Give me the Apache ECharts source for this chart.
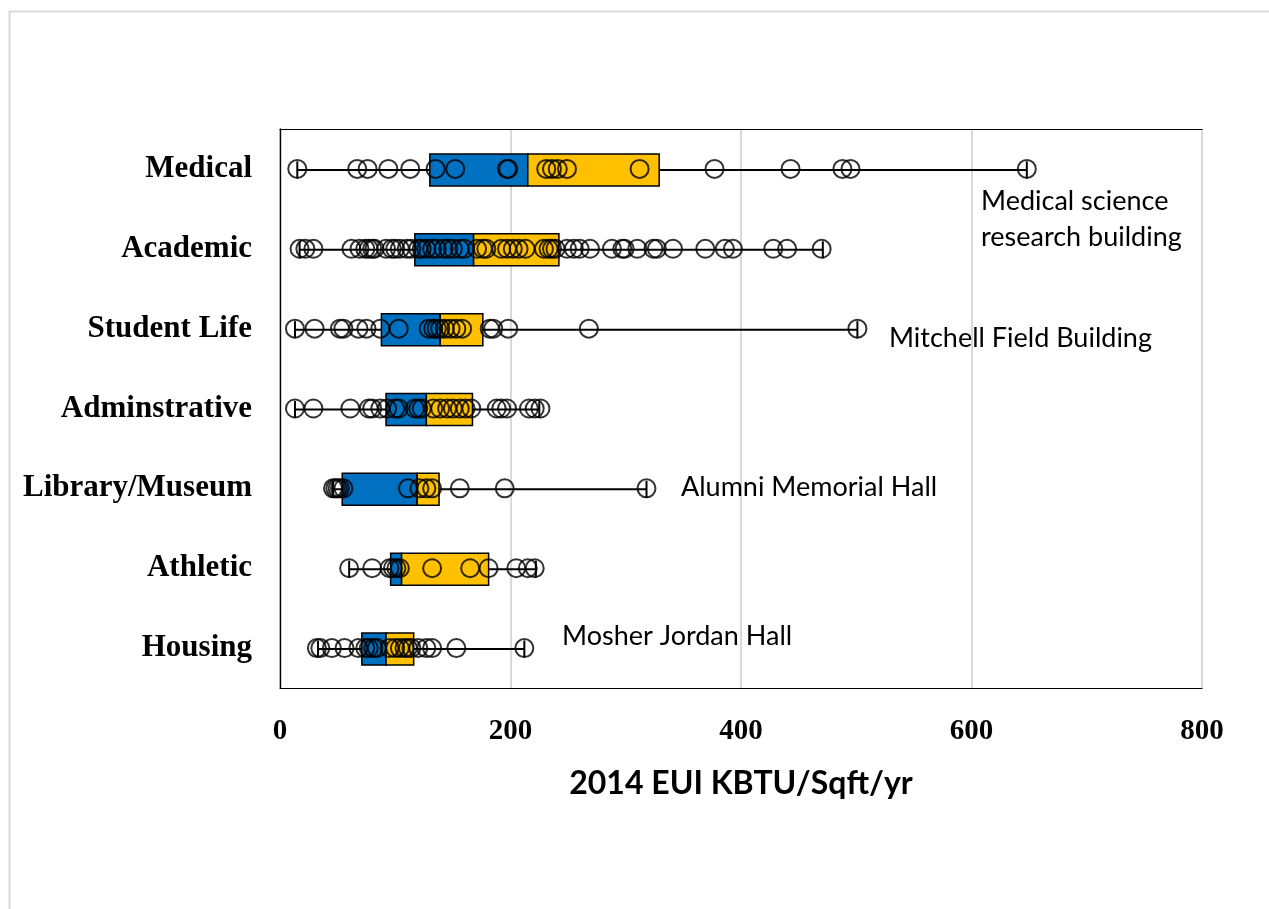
<!DOCTYPE html>
<html><head><meta charset="utf-8">
<script src="https://cdn.jsdelivr.net/npm/echarts@6/dist/echarts.min.js"></script>
<style>html,body{margin:0;padding:0;background:#fff}#c{width:1269px;height:909px}</style>
</head><body><div id="c"></div>
<script>
const categories = ['Medical','Academic','Student Life','Adminstrative','Library/Museum','Athletic','Housing'];
// box stats: [min, Q1, median, Q3, max]
const medicalBox = [15, 130, 215, 329, 648];
const academicBox = [17, 117, 168, 242, 471];
const studentBox = [13, 88, 139, 176, 501];
const adminBox = [13, 92, 127, 167, 225];
const libraryBox = [46, 54, 119, 138, 318];
const athleticBox = [60, 96, 105.5, 181, 222];
const housingBox = [33, 71, 92, 116, 212];

const medicalPts = [15, 67, 76, 94, 113, 135, 152, 197, 198, 231, 236, 241, 249, 312, 377, 443, 488, 495, 648];
const academicPts = [17, 22, 29, 62, 69, 74, 77, 80, 82, 92, 97, 100, 104, 110, 114, 120, 123, 127, 132, 136, 142, 146, 150, 156, 160, 171, 176, 179, 192, 197, 202, 207, 213, 229, 233, 236, 239, 249, 255, 260, 269, 288, 297, 299, 310, 324, 327, 341, 369, 386, 393, 428, 440, 470];
const studentPts = [13, 30, 52, 55, 68, 75, 87, 103, 129, 133, 136, 139, 143, 148, 153, 158, 182, 185, 198, 268, 501];
const adminPts = [13, 29, 61, 77, 80, 87, 93, 100, 103, 117, 120, 123, 133, 139, 145, 150, 156, 161, 166, 188, 192, 197, 216, 221, 226];
const libraryPts = [46, 48, 50, 52, 55, 111, 121, 127, 132, 156, 195, 318];
const athleticPts = [60, 80, 95, 98, 101, 104, 132, 165, 181, 205, 215, 221];
const housingPts = [32, 35, 45, 56, 68, 74, 77, 81, 84, 95, 100, 104, 108, 111, 114, 120, 127, 132, 153, 212];

const xTicks = [0, 200, 400, 600, 800];
const annotationTexts = ['Medical science\nresearch building', 'Mitchell Field Building', 'Alumni Memorial Hall', 'Mosher Jordan Hall'];

const boxes = [medicalBox, academicBox, studentBox, adminBox, libraryBox, athleticBox, housingBox];
const pts = [medicalPts, academicPts, studentPts, adminPts, libraryPts, athleticPts, housingPts];

const boxData = boxes.map((b, i) => [categories[i], ...b]);
const scatterData = [];
pts.forEach((arr, i) => arr.forEach(v => scatterData.push([v, categories[i]])));

const chart = echarts.init(document.getElementById('c'));

function renderBox(params, api) {
  const cat = api.value(0);
  const pMin = api.coord([api.value(1), cat]);
  const pQ1 = api.coord([api.value(2), cat]);
  const pMed = api.coord([api.value(3), cat]);
  const pQ3 = api.coord([api.value(4), cat]);
  const pMax = api.coord([api.value(5), cat]);
  const y = pMin[1] + 1;
  const bh = 32, ch = 17;
  return {
    type: 'group',
    children: [
      {type: 'line', shape: {x1: pMin[0], y1: y, x2: pMax[0], y2: y}, style: {stroke: '#000', lineWidth: 2}},
      {type: 'line', shape: {x1: pMin[0], y1: y - ch/2, x2: pMin[0], y2: y + ch/2}, style: {stroke: '#000', lineWidth: 2}},
      {type: 'line', shape: {x1: pMax[0], y1: y - ch/2, x2: pMax[0], y2: y + ch/2}, style: {stroke: '#000', lineWidth: 2}},
      {type: 'rect', shape: {x: pQ1[0], y: y - bh/2, width: pMed[0] - pQ1[0], height: bh}, style: {fill: '#0070C0', stroke: '#000', lineWidth: 1.5}},
      {type: 'rect', shape: {x: pMed[0], y: y - bh/2, width: pQ3[0] - pMed[0], height: bh}, style: {fill: '#FFC000', stroke: '#000', lineWidth: 1.5}}
    ]
  };
}

const annStyle = {fontFamily: 'Lato', fontSize: 27, lineHeight: 36, fill: '#000', verticalAlign: 'middle', align: 'left'};
const frameLine = {show: true, lineStyle: {color: '#000', width: 1.2}};

const option = {
  animation: false,
  backgroundColor: '#fff',
  grid: {left: 280, top: 129, right: 67, bottom: 221},
  xAxis: [{
    type: 'value', min: xTicks[0], max: xTicks[xTicks.length - 1], interval: 200, z: 0,
    name: '2014 EUI KBTU/Sqft/yr', nameLocation: 'middle', nameGap: 80,
    nameTextStyle: {fontFamily: 'Lato', fontWeight: 'bold', fontSize: 32, color: '#000'},
    axisLine: frameLine, axisTick: {show: false},
    axisLabel: {margin: 29, fontFamily: 'Liberation Serif', fontWeight: 'bold', fontSize: 29, color: '#000'},
    splitLine: {show: true, lineStyle: {color: '#d9d9d9', width: 2}}
  }, {
    type: 'value', position: 'top', min: xTicks[0], max: xTicks[xTicks.length - 1], interval: 200, z: 5,
    axisLine: frameLine, axisTick: {show: false}, axisLabel: {show: false}, splitLine: {show: false}
  }],
  yAxis: [{
    type: 'category', data: categories, inverse: true, z: 5,
    axisLine: frameLine, axisTick: {show: false}, splitLine: {show: false},
    axisLabel: {margin: 28, fontFamily: 'Liberation Serif', fontWeight: 'bold', fontSize: 31, color: '#000'}
  }, {
    type: 'category', data: categories, inverse: true, position: 'right', z: 5,
    axisLine: frameLine, axisTick: {show: false}, axisLabel: {show: false}, splitLine: {show: false}
  }],
  series: [
    {type: 'custom', renderItem: renderBox, data: boxData, encode: {x: [1,2,3,4,5], y: 0}, z: 2},
    {type: 'scatter', data: scatterData, symbol: 'circle', symbolSize: 18, z: 3,
     itemStyle: {color: 'rgba(0,0,0,0)', borderColor: '#000', borderWidth: 2}}
  ],
  graphic: [
    {type: 'rect', left: 7, top: 9, z: -1, silent: true, shape: {width: 1400, height: 1000}, style: {fill: 'none', stroke: '#d9d9d9', lineWidth: 2}},
    {type: 'text', x: 981, y: 219, z: 100, style: Object.assign({text: annotationTexts[0]}, annStyle)},
    {type: 'text', x: 889, y: 338, z: 100, style: Object.assign({text: annotationTexts[1]}, annStyle)},
    {type: 'text', x: 681, y: 487, z: 100, style: Object.assign({text: annotationTexts[2]}, annStyle)},
    {type: 'text', x: 562, y: 636, z: 100, style: Object.assign({text: annotationTexts[3]}, annStyle)}
  ]
};
chart.setOption(option);
</script></body></html>
